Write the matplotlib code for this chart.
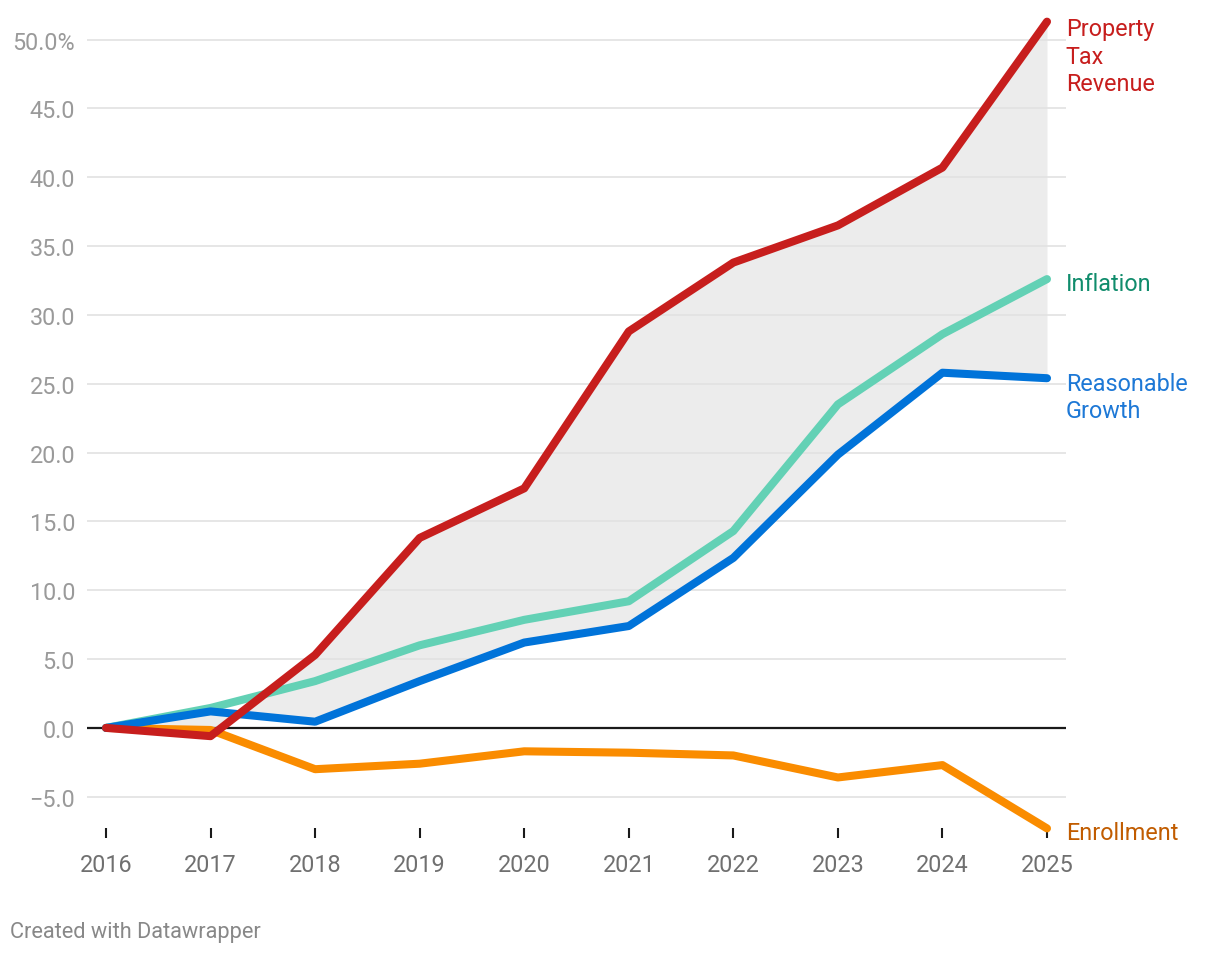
import numpy as np
from matplotlib import pyplot as plt

plt.rcParams['font.family'] = ['Roboto', 'DejaVu Sans']

years = [2016, 2017, 2018, 2019, 2020, 2021, 2022, 2023, 2024, 2025]
property_tax = [0.0, -0.6, 5.3, 13.8, 17.4, 28.8, 33.8, 36.5, 40.7, 51.3]
inflation = [0.0, 1.45, 3.4, 6.0, 7.85, 9.2, 14.3, 23.5, 28.6, 32.6]
reasonable = [0.0, 1.2, 0.45, 3.4, 6.2, 7.4, 12.35, 19.85, 25.8, 25.4]
enrollment = [0.0, -0.15, -3.0, -2.6, -1.7, -1.8, -2.0, -3.6, -2.7, -7.3]

y_ticks = [-5, 0, 5, 10, 15, 20, 25, 30, 35, 40, 45, 50]
y_labels = ['\u22125.0', '0.0', '5.0', '10.0', '15.0', '20.0', '25.0', '30.0',
            '35.0', '40.0', '45.0', '50.0%']

series = [
    ('Enrollment', enrollment, '#fa8c00', '#c15c00'),
    ('Inflation', inflation, '#63d1b5', '#108c6c'),
    ('Reasonable\nGrowth', reasonable, '#0073d9', '#1d78d6'),
    ('Property\nTax\nRevenue', property_tax, '#c71e1d', '#c71e1d'),
]

fig = plt.figure(figsize=(12.2, 9.54), dpi=100)
ax = fig.add_axes([0.0713, 0.1205, 0.8025, 0.8774])

# shaded gap between tax revenue and reasonable growth
ax.fill_between(years, property_tax, reasonable, color='#ececec', lw=0, zorder=1)

for t in y_ticks:
    if t == 0:
        ax.axhline(0, color='#1a1a1a', lw=1.6, zorder=2)
    else:
        ax.axhline(t, color='#e2e2e2', lw=1.2, zorder=1.5)

for name, vals, c, tc in series:
    ax.plot(years, vals, color=c, lw=5.8, solid_capstyle='round',
            solid_joinstyle='round', zorder=3)

# direct labels at the right end
label_y = {'Enrollment': -7.6, 'Inflation': 32.3, 'Reasonable\nGrowth': 24.05,
           'Property\nTax\nRevenue': 48.8}
for name, vals, c, tc in series:
    ax.text(2025.18, label_y[name], name, color=tc, fontsize=16.8, va='center',
            ha='left', linespacing=1.25, clip_on=False)

ax.set_xlim(2015.818, 2025.182)
ax.set_ylim(-8.0, 52.8)
ax.set_xticks(years)
ax.set_xticklabels([str(y) for y in years])
ax.set_yticks(y_ticks)
ax.set_yticklabels(y_labels)
ax.tick_params(axis='x', direction='in', length=7.2, width=1.5, color='#1a1a1a',
               pad=11, labelsize=16.8, labelcolor='#707070')
ax.tick_params(axis='y', length=0, pad=8.6, labelsize=16.8, labelcolor='#9a9a9a')
for s in ax.spines.values():
    s.set_visible(False)

fig.text(10 / 1220, 1 - 933 / 954, 'Created with Datawrapper', fontsize=15.7,
         color='#888888', va='center', ha='left')

plt.savefig('out.png', dpi=100)
